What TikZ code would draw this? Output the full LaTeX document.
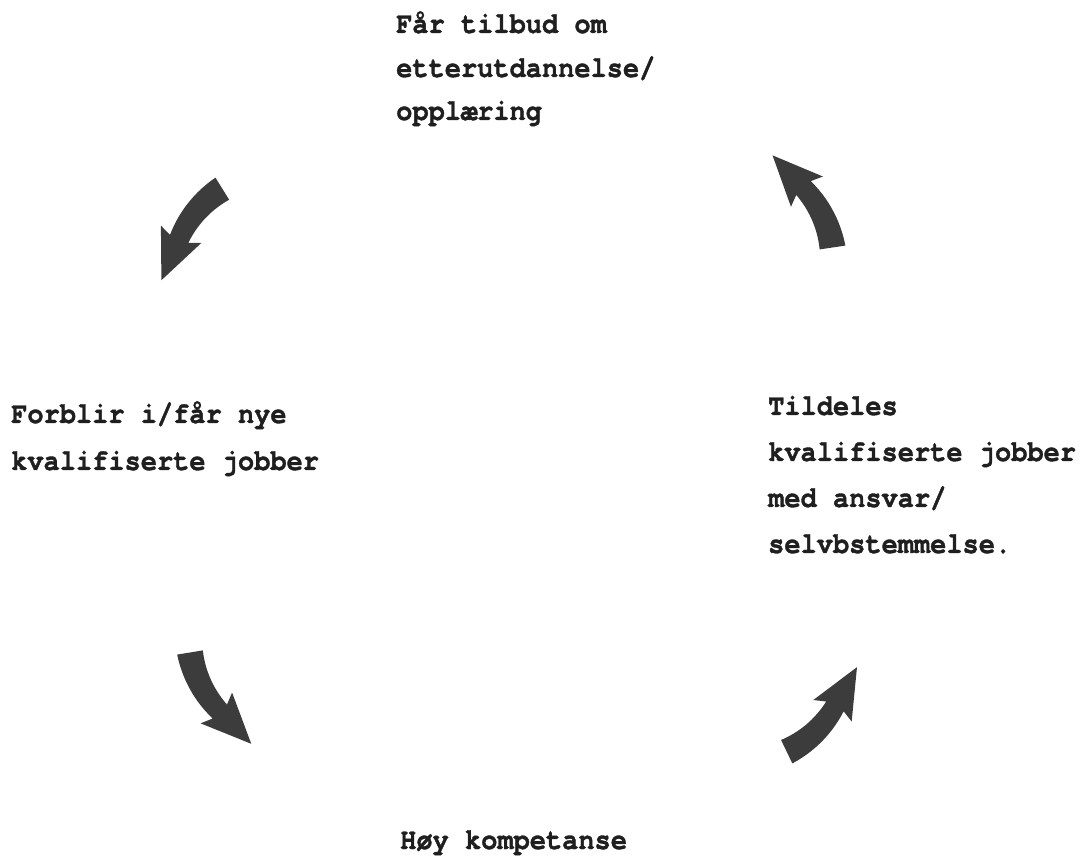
\documentclass[tikz,border=0pt]{standalone}
\usepackage{fontspec}
\newfontfamily\typewriter{TeX Gyre Cursor}[FakeStretch=0.9,Ligatures=NoCommon,BoldFeatures={FakeBold=1.2}]
\definecolor{arrowgray}{RGB}{60,60,60}
\tikzset{
  label text/.style={anchor=base west, inner sep=0pt, font=\typewriter\bfseries\fontsize{30}{36}\selectfont, text=black!88},
  % curved block arrow: tail centred at the origin heading along +x,
  % shaft bends to the left and tapers, then a swept triangular head
  pics/cyclearrow/.style={code={
    \fill[arrowgray] (0,-13)
      -- plot[domain=0:35,samples=14,variable=\t]
           ({(123-0.0857*\t)*sin(\t)},{110-(123-0.0857*\t)*cos(\t)})
      -- (71.63,-0.99) -- (100,45.7) -- (46.37,35.05)
      -- plot[domain=35:0,samples=14,variable=\t]
           ({(97+0.0857*\t)*sin(\t)},{110-(97+0.0857*\t)*cos(\t)})
      -- cycle;
  }}
}
\begin{document}
\begin{tikzpicture}[x=1pt,y=1pt]
  \fill[white] (0,0) rectangle (1082,855);
  \useasboundingbox (0,0) rectangle (1082,855);

  % top
  \node[label text] (top1) at (396,822) {Får tilbud om};
  \node[label text] (top2) at (396,778) {etterutdannelse/};
  \node[label text] (top3) at (396,735) {opplæring};

  % left
  \node[label text] (left1) at (11,432) {Forblir i/får nye};
  \node[label text] (left2) at (11,385) {kvalifiserte jobber};

  % right
  \node[label text] (right1) at (768,440) {Tildeles};
  \node[label text] (right2) at (768,394) {kvalifiserte jobber};
  \node[label text] (right3) at (768,348) {med ansvar/};
  \node[label text] (right4) at (768,302) {selvbstemmelse.};

  % bottom
  \node[label text] (bottom1) at (400,6) {Høy kompetanse};

  % arrows of the cycle
  \coordinate (a1) at (222.3,666.3);
  \coordinate (a2) at (832.5,607.5);
  \coordinate (a3) at (190,202.5);
  \coordinate (a4) at (786.7,103.3);
  \pic[rotate=211.8] at (a1) {cyclearrow};
  \pic[rotate=98.5]  at (a2) {cyclearrow};
  \pic[rotate=279.3] at (a3) {cyclearrow};
  \pic[rotate=25.7]  at (a4) {cyclearrow};
\end{tikzpicture}
\end{document}
